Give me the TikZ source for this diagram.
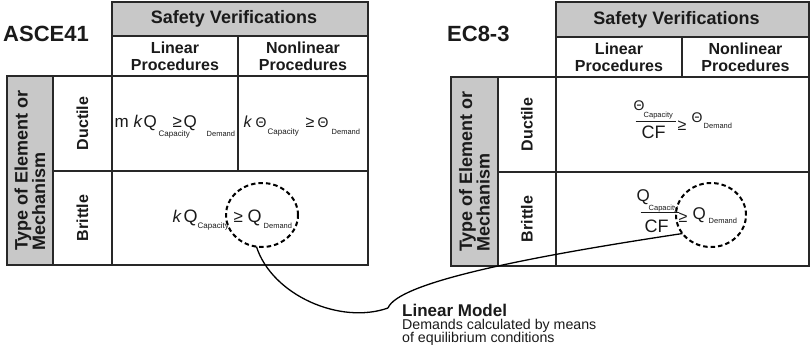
\documentclass[tikz,border=0pt]{standalone}
\usepackage{fontspec}
\setmainfont{Liberation Sans}
\usetikzlibrary{shapes.geometric}
\definecolor{hdrgray}{RGB}{200,200,200}
\definecolor{ink}{RGB}{26,26,26}
\definecolor{linec}{RGB}{40,40,40}
\newcommand\fsz[1]{\fontsize{#1}{#1}\selectfont}
% piece of a formula: x offset, raise, size, text (zero width)
\newcommand\pc[4]{\rlap{\kern#1pt\raisebox{#2pt}{\fsz{#3}#4}}}
\begin{document}
\begin{tikzpicture}[x=1pt,y=-1pt,
  cell/.style={draw=linec, line width=1.3pt, rectangle, anchor=north west, inner sep=0pt, outer sep=0pt},
  graycell/.style={cell, fill=hdrgray},
  hdr/.style={text=ink, font=\bfseries\fsz{18}, inner sep=0pt},
  colhead/.style={text=ink, font=\bfseries\fontsize{16}{17}\selectfont, align=center, inner sep=0pt},
  rowhead/.style={text=ink, font=\bfseries\fsz{16}, rotate=90, inner sep=0pt},
  typehead/.style={text=ink, font=\bfseries\fontsize{18}{17.5}\selectfont, align=left, rotate=90, inner sep=0pt},
  title/.style={text=ink, font=\bfseries\fsz{22}, anchor=base west, inner sep=0pt},
  formula/.style={text=ink, anchor=base west, inner sep=0pt},
  highlight/.style={draw=black, line width=2pt, dash pattern=on 4.5pt off 3pt, ellipse, inner sep=0pt, outer sep=0pt},
  conn/.style={draw=black, line width=1.3pt}
]
\useasboundingbox (0,0) rectangle (811,349);

% ---------- ASCE41 table ----------
\node[title] (tL) at (3,41) {ASCE41};
\node[graycell, minimum width=256pt, minimum height=34pt] (hdrL) at (112,2) {};
\node[cell, minimum width=126pt, minimum height=40pt] (linL) at (112,36) {};
\node[cell, minimum width=130pt, minimum height=40pt] (nonL) at (238,36) {};
\node[graycell, minimum width=46pt, minimum height=189pt] (typeL) at (7,76) {};
\node[cell, minimum width=59pt, minimum height=95pt] (ducL) at (53,76) {};
\node[cell, minimum width=59pt, minimum height=94pt] (briL) at (53,171) {};
\node[cell, minimum width=126pt, minimum height=95pt] (dlinL) at (112,76) {};
\node[cell, minimum width=130pt, minimum height=95pt] (dnonL) at (238,76) {};
\node[cell, minimum width=256pt, minimum height=94pt] (bL) at (112,171) {};

\node[hdr] (hdrLt) at ([xshift=-6pt]hdrL.center) {Safety Verifications};
\node[colhead] (linLt) at (linL.center) {Linear\\Procedures};
\node[colhead] (nonLt) at (nonL.center) {Nonlinear\\Procedures};
\node[rowhead] (ducLt) at (ducL.center) {Ductile};
\node[rowhead] (briLt) at (briL.center) {Brittle};
\node[typehead] (typeLt) at (typeL.center) {Type of Element or\\Mechanism};

\node[formula] (fDL) at (114,127) {%
  \pc{0}{0}{17}{m}\pc{19}{0}{17}{\itshape k}\pc{29}{0}{17}{Q}%
  \pc{44}{-9}{8}{Capacity}\pc{58}{0}{17}{≥}\pc{69}{0}{17}{Q}%
  \pc{92}{-9}{7.5}{Demand}};
\node[formula] (fDN) at (243,127) {%
  \pc{0}{0}{16}{\itshape k}\pc{12}{0}{14}{Θ}%
  \pc{24}{-7}{8}{Capacity}\pc{62}{0}{16}{≥}\pc{74}{0}{14}{Θ}%
  \pc{88}{-7}{7.5}{Demand}};
\node[formula] (fBL) at (172,222) {%
  \pc{0}{0}{17}{\itshape k}\pc{11}{0}{18}{Q}%
  \pc{25}{-6}{8}{Capacity}\pc{61}{0}{17}{≥}\pc{75}{0}{18}{Q}%
  \pc{91}{-6}{7.5}{Demand}};

% ---------- EC8-3 table ----------
\node[title] (tR) at (447,41) {EC8-3};
\node[graycell, minimum width=253pt, minimum height=35pt] (hdrR) at (556,2) {};
\node[cell, minimum width=126pt, minimum height=40pt] (linR) at (556,37) {};
\node[cell, minimum width=127pt, minimum height=40pt] (nonR) at (682,37) {};
\node[graycell, minimum width=47pt, minimum height=189pt] (typeR) at (451,77) {};
\node[cell, minimum width=58pt, minimum height=95pt] (ducR) at (498,77) {};
\node[cell, minimum width=58pt, minimum height=94pt] (briR) at (498,172) {};
\node[cell, minimum width=253pt, minimum height=95pt] (dR) at (556,77) {};
\node[cell, minimum width=253pt, minimum height=94pt] (bR) at (556,172) {};

\node[hdr] (hdrRt) at ([xshift=-6pt]hdrR.center) {Safety Verifications};
\node[colhead] (linRt) at (linR.center) {Linear\\Procedures};
\node[colhead] (nonRt) at (nonR.center) {Nonlinear\\Procedures};
\node[rowhead] (ducRt) at (ducR.center) {Ductile};
\node[rowhead] (briRt) at (briR.center) {Brittle};
\node[typehead] (typeRt) at (typeR.center) {Type of Element or\\Mechanism};

\node[formula] (fDR) at (633,110) {%
  \pc{0}{0}{14}{Θ}\pc{10}{-7}{7.5}{Capacity}%
  \pc{2}{-12}{1}{\rule{40pt}{1.1pt}}\pc{8}{-28}{18}{CF}%
  \pc{44}{-20}{16}{≥}\pc{58}{-12}{14}{Θ}\pc{70}{-18}{7.5}{Demand}};
\node[formula] (fBR) at (636,201) {%
  \pc{0}{0}{17}{Q}\pc{12}{-9}{7.5}{Capacity}%
  \pc{4}{-12}{1}{\rule{38pt}{1.1pt}}\pc{8}{-31}{18}{CF}%
  \pc{42}{-21}{16}{≥}\pc{56}{-18}{17}{Q}\pc{72}{-22}{7.5}{Demand}};

% ---------- highlighted demands and callout ----------
\node[highlight, minimum width=72pt, minimum height=64pt] (circL) at (262,215) {};
\node[highlight, minimum width=70pt, minimum height=64pt] (circR) at (711,215) {};

\node[text=ink, font=\bfseries\fsz{17}, anchor=base west, inner sep=0pt] (lmT) at (402,316) {Linear Model};
\node[text=ink, font=\fontsize{14.2}{13.5}\selectfont, align=left, anchor=north west, inner sep=0pt] (lmD) at (402,319)
  {Demands calculated by means\\of equilibrium conditions};

\coordinate (cusp) at (388,308);
\draw[conn] (circL.260) .. controls (272,295) and (340,325) .. (cusp);
\draw[conn] (cusp) .. controls (398,283) and (520,258) .. (circR.213);
\end{tikzpicture}
\end{document}
